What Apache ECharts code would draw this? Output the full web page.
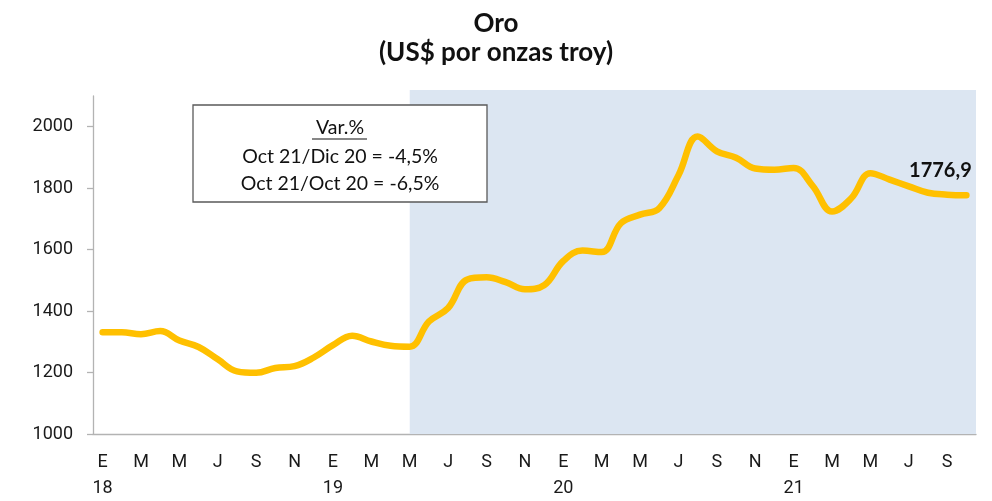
<!DOCTYPE html>
<html>
<head>
<meta charset="utf-8">
<script src="https://cdn.jsdelivr.net/npm/echarts@6/dist/echarts.min.js"></script>
<style>html,body{margin:0;padding:0;background:#fff}#c{width:992px;height:501px}</style>
</head>
<body>
<div id="c"></div>
<script>
// Month initials (Spanish) and years
var monthLetters = ['E','F','M','A','M','J','J','A','S','O','N','D'];
var years = ['18','19','20','21'];
// Gold price, monthly average, Jan 2018 - Oct 2021 (US$ per troy ounce)
var gold2018 = [1331, 1331, 1325, 1335, 1304, 1283, 1243, 1204, 1199, 1215, 1221, 1249];
var gold2019 = [1289, 1320, 1301, 1287, 1284, 1366, 1410, 1503, 1510, 1494, 1471, 1484];
var gold2020 = [1563, 1597, 1592, 1686, 1714, 1735, 1842, 1968, 1920, 1899, 1864, 1860];
var gold2021 = [1866, 1807, 1724, 1767, 1849, 1828, 1806, 1785, 1779, 1776.9];
var shadeStartIndex = 16; // May 2019
var yTicks = [1000, 1200, 1400, 1600, 1800, 2000];
var titleText = 'Oro\n(US$ por onzas troy)';
var boxLines = ['Var.%', 'Oct 21/Dic 20 = -4,5%', 'Oct {g|21}/Oct 20 = -6,5%'];

var values = gold2018.concat(gold2019, gold2020, gold2021);
var categoryLabels = values.map(function (v, i) {
  var m = i % 12, y = Math.floor(i / 12);
  return m === 0 ? monthLetters[m] + '\n' + years[y] : monthLetters[m];
});
var categoryKeys = values.map(function (v, i) { return String(i); });
var lastIdx = values.length - 1;

var chart = echarts.init(document.getElementById('c'), null, { renderer: 'canvas' });
chart.setOption({
  animation: false,
  backgroundColor: '#ffffff',
  title: {
    text: titleText,
    left: 'center', top: 4,
    textStyle: { fontFamily: 'Lato', fontWeight: 'bold', fontSize: 26, lineHeight: 29, color: '#111' }
  },
  grid: { left: 93, right: 16, top: 96, bottom: 65 },
  xAxis: {
    type: 'category',
    data: categoryKeys,
    boundaryGap: true,
    axisLine: { lineStyle: { color: '#b3b3b3', width: 1.3 } },
    axisTick: { show: false },
    axisLabel: {
      interval: 1, margin: 15,
      formatter: function (v) { return categoryLabels[+v]; },
      fontFamily: 'Roboto', fontSize: 18, lineHeight: 26, color: '#1a1a1a'
    },
    splitLine: { show: false }
  },
  yAxis: {
    type: 'value', min: 1000, max: 2100, interval: 200,
    axisLine: { show: true, lineStyle: { color: '#b3b3b3', width: 1.3 } },
    axisTick: { show: true, length: 6, lineStyle: { color: '#b3b3b3', width: 1.3 } },
    axisLabel: {
      showMaxLabel: false, margin: 20,
      fontFamily: 'Roboto', fontSize: 18, color: '#1a1a1a',
      formatter: function (v) { return yTicks.indexOf(v) >= 0 ? String(v) : ''; }
    },
    splitLine: { show: false }
  },
  series: [{
    type: 'line',
    data: values,
    smooth: 0.4,
    symbol: 'none',
    lineStyle: { color: '#FFC000', width: 6.5, cap: 'round', join: 'round' },
    z: 5,
    markArea: {
      silent: true,
      itemStyle: { color: '#DCE6F2' },
      data: [[
        { xAxis: String(shadeStartIndex), y: 90 },
        { xAxis: Infinity, yAxis: 1000 }
      ]]
    },
    markPoint: {
      silent: true,
      symbol: 'circle', symbolSize: 1,
      itemStyle: { color: 'rgba(0,0,0,0)' },
      data: [{ coord: [String(lastIdx), values[lastIdx]], value: values[lastIdx] }],
      label: {
        show: true, position: 'top', distance: 14, offset: [-26, 0],
        formatter: function (p) { return String(p.value).replace('.', ','); },
        fontFamily: 'Lato', fontWeight: 'bold', fontSize: 20, color: '#111'
      }
    }
  }],
  graphic: [
    {
      type: 'rect', x: 193, y: 105, z: 10,
      shape: { x: 0, y: 0, width: 294, height: 97 },
      style: { fill: '#fff', stroke: '#5a5a5a', lineWidth: 1.3 }
    },
    {
      type: 'text', x: 340, y: 128, z: 11,
      style: { text: boxLines[0], font: '19.5px Lato', fill: '#111', align: 'center', verticalAlign: 'middle' }
    },
    {
      type: 'line', z: 11,
      shape: { x1: 312, y1: 139, x2: 367, y2: 139 },
      style: { stroke: '#111', lineWidth: 1.2 }
    },
    {
      type: 'text', x: 340, y: 157, z: 11,
      style: { text: boxLines[1], font: '19.5px Lato', fill: '#111', align: 'center', verticalAlign: 'middle' }
    },
    {
      type: 'text', x: 340, y: 184, z: 11,
      style: {
        text: boxLines[2], font: '19.5px Lato', fill: '#111', align: 'center', verticalAlign: 'middle',
        rich: { g: { fontFamily: 'Lato', fontSize: 19.5, color: '#595959' } }
      }
    }
  ]
});
</script>
</body>
</html>
